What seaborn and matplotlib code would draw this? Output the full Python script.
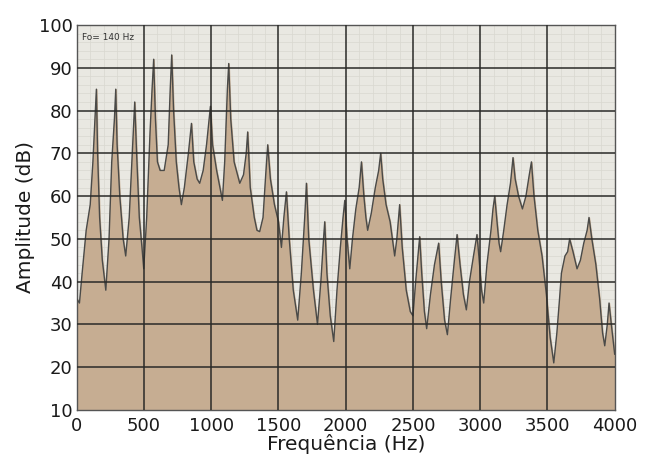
import numpy as np
import pandas as pd
import matplotlib
matplotlib.use("Agg")
import matplotlib.pyplot as plt
import seaborn as sns

# espectro (frequencia em Hz, amplitude em dB)
freq_hz = [0, 20, 40, 70, 100, 120, 135, 146, 155, 170, 190, 216, 240, 260, 280, 290, 300, 320,
           345, 364, 390, 410, 431, 445, 465, 485, 498, 520, 545, 560, 572, 585, 600, 620, 650,
           680, 695, 706, 720, 740, 760, 778, 800, 830, 853, 870, 895, 914, 940, 965, 994, 1010,
           1040, 1065, 1083, 1100, 1120, 1130, 1145, 1170, 1195, 1212, 1240, 1260, 1271, 1290,
           1320, 1340, 1360, 1385, 1405, 1420, 1440, 1470, 1500, 1522, 1540, 1559, 1580, 1610,
           1643, 1670, 1695, 1708, 1725, 1760, 1790, 1815, 1835, 1844, 1860, 1885, 1911, 1935,
           1960, 1980, 1993, 2010, 2030, 2050, 2075, 2100, 2117, 2135, 2150, 2163, 2190, 2220,
           2245, 2260, 2275, 2300, 2330, 2364, 2380, 2401, 2420, 2450, 2480, 2500, 2520, 2540,
           2550, 2565, 2585, 2602, 2630, 2660, 2691, 2710, 2735, 2756, 2780, 2805, 2828, 2850,
           2875, 2897, 2920, 2950, 2976, 2990, 3010, 3026, 3050, 3080, 3095, 3108, 3125, 3140,
           3152, 3175, 3200, 3225, 3244, 3260, 3285, 3314, 3340, 3365, 3381, 3400, 3428, 3460,
           3492, 3520, 3547, 3570, 3590, 3604, 3630, 3650, 3665, 3690, 3720, 3745, 3770, 3795,
           3809, 3830, 3860, 3888, 3910, 3926, 3945, 3958, 3975, 4000]
amp_db = [36, 35, 42, 52, 58, 68, 78, 85, 70, 55, 45, 38, 50, 68, 78, 85, 72, 60,
          50, 46, 55, 68, 82, 70, 55, 48, 43, 55, 75, 85, 92, 78, 68, 66, 66,
          72, 85, 93, 80, 68, 62, 58, 62, 70, 77, 68, 64, 63, 66, 72, 81, 72,
          66, 62, 59, 68, 85, 91, 78, 68, 65, 63, 65, 70, 75, 62,
          55, 52, 51.7, 55, 65, 72, 64, 58, 54, 48, 55, 61, 50, 38,
          31, 42, 55, 63, 50, 38, 30, 40, 50, 54, 42, 32, 26, 38,
          48, 55, 59, 50, 43, 50, 57, 62, 68, 60, 55, 52, 56, 62,
          66, 70, 64, 58, 54, 46, 50, 58, 48, 38, 33, 32, 40, 47,
          50.5, 42, 33, 29, 37, 44, 49, 40, 31, 27.6, 36, 44, 51, 44,
          37, 33.4, 40, 46, 51, 46, 38, 35, 44, 52, 57, 60, 54, 49,
          47, 52, 58, 63, 69, 64, 60, 57, 60, 65, 68, 60, 52, 46,
          37, 27, 21, 28, 36, 42, 46, 47, 50, 47, 43, 45, 49, 52,
          55, 50, 44, 36, 28, 25, 30, 35, 30, 23]

x_ticks = [0, 500, 1000, 1500, 2000, 2500, 3000, 3500, 4000]
y_ticks = [10, 20, 30, 40, 50, 60, 70, 80, 90, 100]

df = pd.DataFrame({"Frequencia": freq_hz, "Amplitude": amp_db})

sns.set_style("white")
plt.rcParams["font.family"] = ["DejaVu Sans"]

fig = plt.figure(figsize=(6.45, 4.55), dpi=100)
ax = fig.add_axes([0.119, 0.099, 0.834, 0.846])
ax.set_facecolor("#e9e8e2")

# papel milimetrado (grade fina, por baixo do espectro)
ax.set_xticks(np.arange(0, 4001, 100), minor=True)
ax.set_yticks(np.arange(10, 101, 2), minor=True)
ax.grid(which="minor", color="#d9d8d0", linewidth=0.5)
ax.set_axisbelow(True)

ax.fill_between(df["Frequencia"], 10, df["Amplitude"], color="#c6ad92", zorder=2)
sns.lineplot(data=df, x="Frequencia", y="Amplitude", ax=ax, color="#4a4a48",
             linewidth=1.0, zorder=3)

ax.set_xlim(0, 4000)
ax.set_ylim(10, 100)
ax.set_xticks(x_ticks)
ax.set_yticks(y_ticks)

# grade principal por cima
for xv in x_ticks[1:-1]:
    ax.axvline(xv, color="#2a2a28", linewidth=1.1, zorder=4)
for yv in y_ticks[1:-1]:
    ax.axhline(yv, color="#2a2a28", linewidth=1.1, zorder=4)

ax.tick_params(which="both", length=0, labelsize=13, colors="#1a1a1a")
ax.tick_params(axis="x", pad=5)
ax.tick_params(axis="y", pad=3)

for s in ax.spines.values():
    s.set_color("#555555")
    s.set_linewidth(1.0)

ax.set_xlabel("Frequência (Hz)", fontsize=14.5, color="#1a1a1a", labelpad=-1)
ax.set_ylabel("Amplitude (dB)", fontsize=14.5, color="#1a1a1a", labelpad=3)
ax.text(40, 96.5, "Fo= 140 Hz", fontsize=6.5, color="#333333", zorder=5)

fig.savefig("out.png", dpi=100)
